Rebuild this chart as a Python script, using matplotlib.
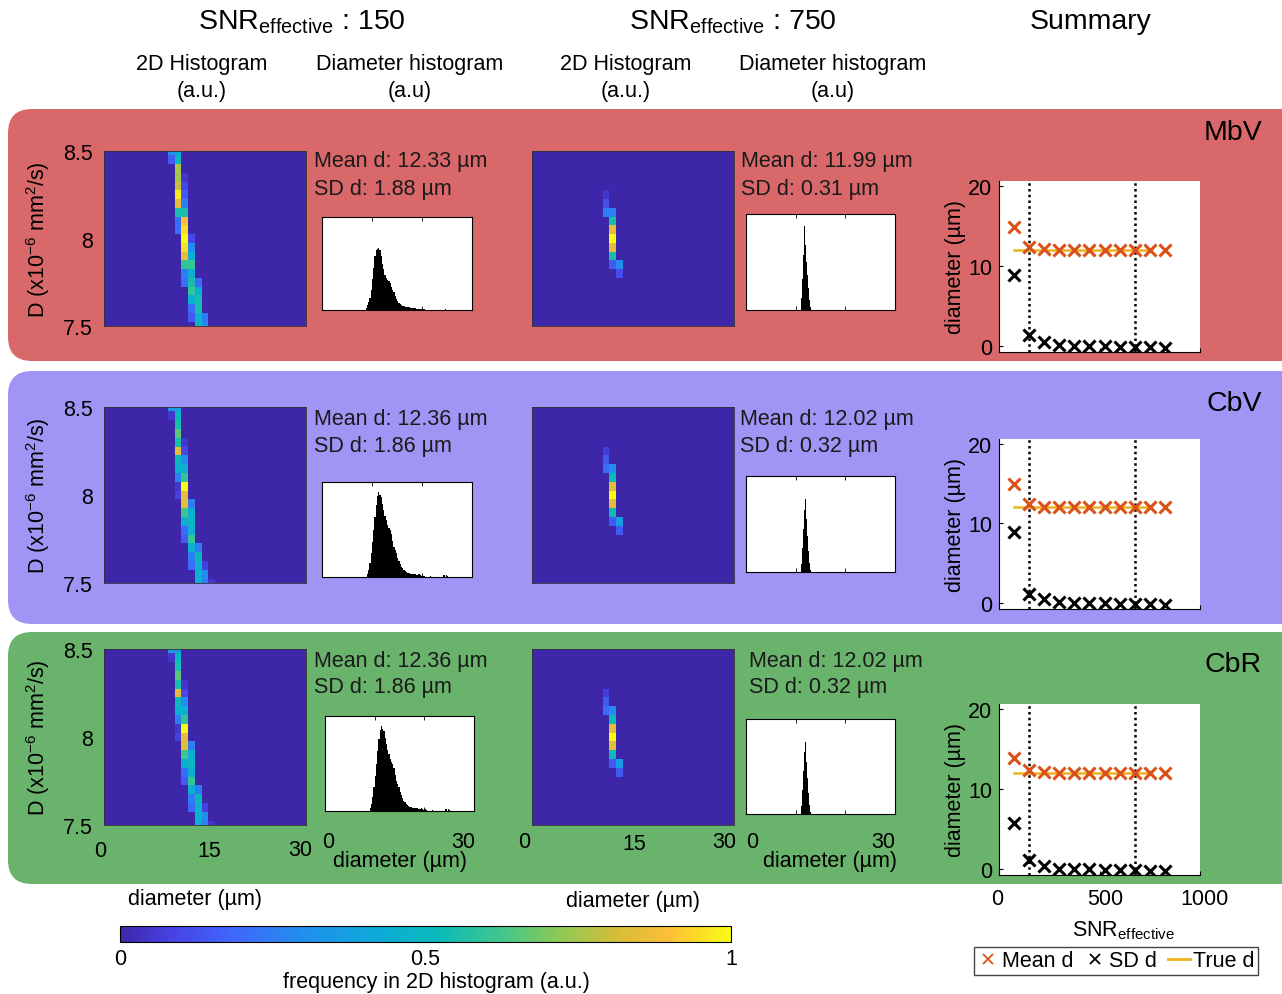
import numpy as np
import matplotlib
matplotlib.use('Agg')
import matplotlib.pyplot as plt
from matplotlib.colors import LinearSegmentedColormap
from matplotlib.patches import FancyBboxPatch
from matplotlib.lines import Line2D

plt.rcParams['font.family'] = ['Liberation Sans', 'DejaVu Sans']
plt.rcParams['mathtext.fontset'] = 'custom'
plt.rcParams['mathtext.rm'] = 'Liberation Sans'
plt.rcParams['mathtext.it'] = 'Liberation Sans:italic'
plt.rcParams['mathtext.default'] = 'regular'

# ---------------- data ----------------
row_names = ['MbV', 'CbV', 'CbR']
snr_columns = ['150', '750']

# 2D histogram grid: diameter bin centres 0..30 um, D bin centres 8.5 .. 7.5 (step 0.05)
d_centers = np.arange(0, 31)
D_centers = np.round(np.arange(8.5, 7.475, -0.05), 3)

# each row (top -> bottom): first non-zero diameter bin and its values (a.u.)
mbv150_start = [10, 10, 11, 11, 11, 11, 11, 11, 11, 11, 12, 12, 12, 12, 12, 12, 13, 13, 13, 13, 14]
mbv150_vals = [[0.3, 0.4], [0.15, 0.5], [0.75], [0.75, 0.05], [0.8, 0.1], [0.97, 0.15],
               [0.85, 0.25], [0.55, 0.55], [0.2, 0.9], [0.2, 0.95], [1.0, 0.1], [0.95, 0.3],
               [0.85, 0.45], [0.6, 0.6], [0.25, 0.45], [0.2, 0.55, 0.2], [0.6, 0.45],
               [0.45, 0.55], [0.2, 0.55], [0.15, 0.45, 0.25], [0.5, 0.3]]

cb150_start = [10, 10, 11, 11, 11, 11, 11, 11, 11, 11, 11, 12, 12, 12, 12, 12, 13, 13, 13, 14, 14]
cb150_vals = [[0.35, 0.35], [0.05, 0.5], [0.55], [0.65], [0.55, 0.05], [0.85, 0.1],
              [0.5, 0.3], [0.45, 0.45], [0.25, 0.6], [0.05, 1.0], [0.08, 0.85], [0.85, 0.25],
              [0.62, 0.45], [0.45, 0.5], [0.2, 0.45], [0.15, 0.6], [0.45, 0.25],
              [0.25, 0.5], [0.2, 0.45, 0.08], [0.45, 0.3], [0.45, 0.25, 0.05]]

mbv750_start = [0, 0, 0, 0, 0, 11, 11, 11, 12, 12, 12, 12, 12, 12, 13, 0, 0, 0, 0, 0, 0]
mbv750_vals = [[], [], [], [], [], [0.05], [0.12], [0.25, 0.25], [0.55], [0.85], [1.0],
               [0.85], [0.55], [0.15, 0.3], [0.12], [], [], [], [], [], []]

cb750_start = [0, 0, 0, 0, 0, 11, 11, 11, 12, 12, 12, 12, 12, 12, 13, 0, 0, 0, 0, 0, 0]
cb750_vals = [[], [], [], [], [], [0.07], [0.15], [0.2, 0.3], [0.52], [0.85], [1.0],
              [0.85], [0.52], [0.15, 0.35], [0.15], [], [], [], [], [], []]

# diameter histograms (a.u.)
hist150_edge0, hist150_bw = 8.75, 0.25
mbv150_hist = [0.02, 0.05, 0.09, 0.13, 0.22, 0.33, 0.45, 0.58, 0.64, 0.66, 0.67, 0.64, 0.58,
               0.50, 0.44, 0.38, 0.34, 0.32, 0.31, 0.29, 0.25, 0.22, 0.19, 0.15, 0.12, 0.10,
               0.08, 0.065, 0.055, 0.045, 0.04, 0.035, 0.032, 0.03, 0.027, 0.025, 0.022, 0.02,
               0.018, 0.017, 0.015, 0.013, 0.011, 0.01, 0.008, 0.007, 0.006, 0.005,
               0, 0, 0, 0, 0, 0, 0, 0, 0, 0, 0, 0, 0, 0, 0, 0.012]
cb150_hist = [0.0, 0.03, 0.07, 0.15, 0.25, 0.37, 0.5, 0.63, 0.76, 0.85, 0.89, 0.86, 0.84,
              0.77, 0.71, 0.64, 0.6, 0.55, 0.52, 0.49, 0.45, 0.38, 0.32, 0.28, 0.25, 0.2,
              0.17, 0.14, 0.11, 0.09, 0.07, 0.06, 0.05, 0.04, 0.04, 0.035, 0.03, 0.035, 0.03,
              0.03, 0.025, 0.02, 0.03, 0.02, 0.015, 0.02, 0.01, 0, 0, 0, 0, 0.015, 0,
              0, 0, 0, 0, 0, 0, 0, 0, 0, 0.02, 0, 0.02, 0.015]
hist750_edge0, hist750_bw = 11.0, 0.1
mbv750_hist = [0.05, 0.12, 0.2, 0.32, 0.45, 0.57, 0.75, 0.88, 0.78, 0.68, 0.58, 0.5, 0.43,
               0.36, 0.3, 0.23, 0.16, 0.1, 0.06, 0.03]
cb750_hist = [0.03, 0.08, 0.15, 0.25, 0.35, 0.45, 0.55, 0.65, 0.72, 0.76, 0.65, 0.55, 0.46,
              0.38, 0.3, 0.22, 0.15, 0.09, 0.05, 0.02]

mean_text = [['12.33', '11.99'], ['12.36', '12.02'], ['12.36', '12.02']]
sd_text = [['1.88', '0.31'], ['1.86', '0.32'], ['1.86', '0.32']]

# summary
snr_eff = [75, 150, 225, 300, 375, 450, 525, 600, 675, 750, 825]
mean_d = [[14.9, 12.4, 12.1, 12.0, 12.0, 12.0, 12.0, 12.0, 12.0, 12.0, 12.0],
          [14.9, 12.4, 12.1, 12.0, 12.0, 12.0, 12.0, 12.0, 12.0, 12.0, 12.0],
          [13.9, 12.3, 12.1, 12.0, 12.0, 12.0, 12.0, 12.0, 12.0, 12.0, 12.0]]
sd_d = [[8.8, 1.3, 0.5, 0.1, 0.0, -0.1, -0.1, -0.2, -0.2, -0.2, -0.3],
        [8.9, 1.1, 0.5, 0.1, 0.0, -0.1, -0.1, -0.2, -0.2, -0.2, -0.3],
        [5.7, 1.1, 0.3, 0.0, -0.1, -0.1, -0.2, -0.2, -0.2, -0.3, -0.3]]
true_d = 12.0
snr_marks = [150, 675]
hm_xticks = [0, 15, 30]
hist_xticks = [0, 30]
sum_xticks = [0, 500, 1000]

# ---------------- style ----------------
parula = LinearSegmentedColormap.from_list('parula', [
    (0.00, (0.2422, 0.1504, 0.6603)),
    (0.08, (0.2780, 0.2550, 0.8900)),
    (0.18, (0.2500, 0.4000, 0.9900)),
    (0.30, (0.1300, 0.5600, 0.9300)),
    (0.42, (0.0500, 0.6700, 0.8500)),
    (0.52, (0.0400, 0.7300, 0.7300)),
    (0.62, (0.2400, 0.7800, 0.5600)),
    (0.72, (0.5600, 0.7900, 0.3300)),
    (0.82, (0.8500, 0.7400, 0.2200)),
    (0.90, (0.9900, 0.7500, 0.2200)),
    (1.00, (0.9769, 0.9839, 0.0805)),
])

box_colors = ['#D9686A', '#A094F4', '#69B36C']
box_y = [(110, 362), (372, 625), (633, 885)]
hm_y = [(152, 327), (408, 584), (650, 826)]
hm_x = [(104, 306), (532, 734)]
hist_boxes = [[(322, 218, 472, 311), (746, 215, 895, 311)],
              [(322, 483, 472, 578), (746, 477, 895, 573)],
              [(325, 717, 474, 812), (746, 720, 895, 815)]]
sum_y = [(182, 353), (440, 610), (705, 876)]
sum_x = (999, 1200)
text_pos = [[(314, 162), (741, 162)], [(314, 420), (740, 420)], [(314, 661), (749, 661)]]
label_pos = [(1262, 133), (1262, 404), (1262, 665)]
# positions (px) of the bottom-row tick labels as laid out in the figure
hm_ticklabel_pos = [[(100, 852), (209, 852), (300, 850)], [(524, 843), (634, 845), (724, 843)]]
hist_ticklabel_pos = [[(328, 843), (463, 843)], [(752, 843), (883, 843)]]
hist_xlabel_pos = [(400, 862), (830, 862)]
sum_ticklabel_pos = [(997, 900), (1105, 900), (1205, 900)]

W, H = 1282, 995
FS = 15.5
fig = plt.figure(figsize=(W / 100, H / 100), dpi=100)


def ax_px(x0, y0, x1, y1):
    return fig.add_axes([x0 / W, 1 - y1 / H, (x1 - x0) / W, (y1 - y0) / H])


def ftext(x, y, s, **kw):
    kw.setdefault('fontsize', FS)
    kw.setdefault('ha', 'center')
    kw.setdefault('va', 'center')
    return fig.text(x / W, 1 - y / H, s, **kw)


# background rounded boxes
bg = fig.add_axes([0, 0, 1, 1], zorder=-5)
bg.set_xlim(0, W)
bg.set_ylim(H, 0)
bg.axis('off')
for (y0, y1), c in zip(box_y, box_colors):
    bg.add_patch(FancyBboxPatch((8, y0), 1320, y1 - y0,
                                boxstyle='round,pad=0,rounding_size=24',
                                facecolor=c, edgecolor='none'))


def build_grid(starts, vals):
    g = np.zeros((len(D_centers), len(d_centers)))
    for k, (s, v) in enumerate(zip(starts, vals)):
        g[k, s:s + len(v)] = v
    return g


grids = [[build_grid(mbv150_start, mbv150_vals), build_grid(mbv750_start, mbv750_vals)],
         [build_grid(cb150_start, cb150_vals), build_grid(cb750_start, cb750_vals)],
         [build_grid(cb150_start, cb150_vals), build_grid(cb750_start, cb750_vals)]]
hists = [[mbv150_hist, mbv750_hist], [cb150_hist, cb750_hist], [cb150_hist, cb750_hist]]
hist_params = [(hist150_edge0, hist150_bw), (hist750_edge0, hist750_bw)]

im = None
for r in range(3):
    for c in range(2):
        x0, x1 = hm_x[c]
        y0, y1 = hm_y[r]
        ax = ax_px(x0, y0, x1, y1)
        im = ax.imshow(grids[r][c], cmap=parula, vmin=0, vmax=1, aspect='auto',
                       origin='upper', interpolation='nearest',
                       extent=(-0.5, 30.5, D_centers[-1] - 0.025, D_centers[0] + 0.025))
        ax.set_xlim(0, 30)
        ax.set_ylim(7.5, 8.5)
        for s in ax.spines.values():
            s.set_linewidth(0.6)
            s.set_color('#333333')
        ax.tick_params(length=0, labelsize=FS)
        ax.set_xticks(hm_xticks)
        ax.set_xticklabels([])
        if r == 2:
            for t, (px, py) in zip(hm_xticks, hm_ticklabel_pos[c]):
                ftext(px, py, str(t))
        ax.set_yticks([7.5, 8, 8.5])
        if c == 0:
            ax.set_yticklabels(['7.5', '8', '8.5'])
            ax.tick_params(axis='y', pad=8)
        else:
            ax.set_yticklabels([])

        # diameter histogram
        hx0, hy0, hx1, hy1 = hist_boxes[r][c]
        hax = ax_px(hx0, hy0, hx1, hy1)
        e0, bw = hist_params[c]
        h = hists[r][c]
        edges = e0 + bw * np.arange(len(h) + 1)
        hax.stairs(h, edges, fill=True, color='black', linewidth=0)
        hax.set_xlim(0, 30)
        hax.set_ylim(0, 1)
        hax.set_yticks([])
        hax.set_xticks([0, 10, 20, 30])
        hax.set_xticklabels([])
        hax.tick_params(axis='x', direction='in', length=3, width=0.6, top=True)
        if r == 2:
            for t, (px, py) in zip(hist_xticks, hist_ticklabel_pos[c]):
                ftext(px, py, str(t))
            ftext(*hist_xlabel_pos[c], 'diameter (µm)')
        for s in hax.spines.values():
            s.set_linewidth(0.8)

        tx, ty = text_pos[r][c]
        ftext(tx, ty, f'Mean d: {mean_text[r][c]} µm', ha='left', color='#1a1a1a')
        ftext(tx, ty + 27, f'SD d: {sd_text[r][c]} µm', ha='left', color='#1a1a1a')

    # y label of 2D histogram
    ftext(38, (hm_y[r][0] + hm_y[r][1]) / 2, r'D (x10$^{-6}$ mm$^{2}$/s)', rotation=90)

    # summary
    sy0, sy1 = sum_y[r]
    sax = ax_px(sum_x[0], sy0, sum_x[1], sy1)
    sax.set_facecolor('white')
    for xm in snr_marks:
        sax.axvline(xm, color='black', ls=(0, (1, 1.3)), lw=1.8, zorder=1)
    sax.plot(snr_eff[:10], [true_d] * 10, '-', color='#EDB120', lw=1.8, zorder=2)
    sax.plot(snr_eff, mean_d[r], 'x', color='#D95319', ms=9, mew=2.2, zorder=3)
    sax.plot(snr_eff, sd_d[r], 'x', color='black', ms=9, mew=2.2, zorder=3)
    sax.set_xlim(0, 1000)
    sax.set_ylim(-0.8, 20.6)
    sax.spines['top'].set_visible(False)
    sax.spines['right'].set_visible(False)
    sax.spines['left'].set_linewidth(0.8)
    sax.spines['bottom'].set_linewidth(0.8)
    sax.set_yticks([0, 10, 20])
    sax.tick_params(axis='y', direction='in', length=3, labelsize=FS, pad=5)
    sax.set_xticks(sum_xticks)
    sax.tick_params(axis='x', direction='in', length=3, labelbottom=False)
    if r == 2:
        for t, (px, py) in zip(sum_xticks, sum_ticklabel_pos):
            ftext(px, py, str(t))
    ftext(955, (sy0 + sy1) / 2, 'diameter (µm)', rotation=90)

    lx, ly = label_pos[r]
    ftext(lx, ly, row_names[r], ha='right', fontsize=20.5)

# headers
ftext(302, 22, r'SNR$_{effective}$ : ' + snr_columns[0], fontsize=20.5)
ftext(733, 22, r'SNR$_{effective}$ : ' + snr_columns[1], fontsize=20.5)
ftext(1091, 22, 'Summary', fontsize=20.5)
for cx in (202, 626):
    ftext(cx, 65, '2D Histogram')
    ftext(cx, 92, '(a.u.)')
for cx in (410, 833):
    ftext(cx, 65, 'Diameter histogram')
    ftext(cx, 92, '(a.u)')

ftext(195, 900, 'diameter (µm)')
ftext(633, 902, 'diameter (µm)')
ftext(1123, 931, r'SNR$_{effective}$')

# colorbar
cax = ax_px(120, 927, 731, 943)
cb = fig.colorbar(im, cax=cax, orientation='horizontal')
cb.set_ticks([0, 0.5, 1])
cb.set_ticklabels(['0', '0.5', '1'])
cb.ax.tick_params(length=0, labelsize=FS, pad=4)
cb.outline.set_linewidth(0.8)
ftext(436, 983, 'frequency in 2D histogram (a.u.)')

# legend
handles = [Line2D([], [], ls='none', marker='x', color='#D95319', ms=7, mew=1.3),
           Line2D([], [], ls='none', marker='x', color='black', ms=7, mew=1.3),
           Line2D([], [], color='#EDB120', lw=2)]
fig.legend(handles, ['Mean d', 'SD d', 'True d'], loc='center',
           bbox_to_anchor=(1116 / W, 1 - 962 / H), ncol=3, frameon=True, fancybox=False,
           edgecolor='#444444', fontsize=FS, handlelength=1.0, handletextpad=0.15,
           columnspacing=0.5, borderpad=0.15, borderaxespad=0, framealpha=1)

fig.savefig('out.png', dpi=100)
